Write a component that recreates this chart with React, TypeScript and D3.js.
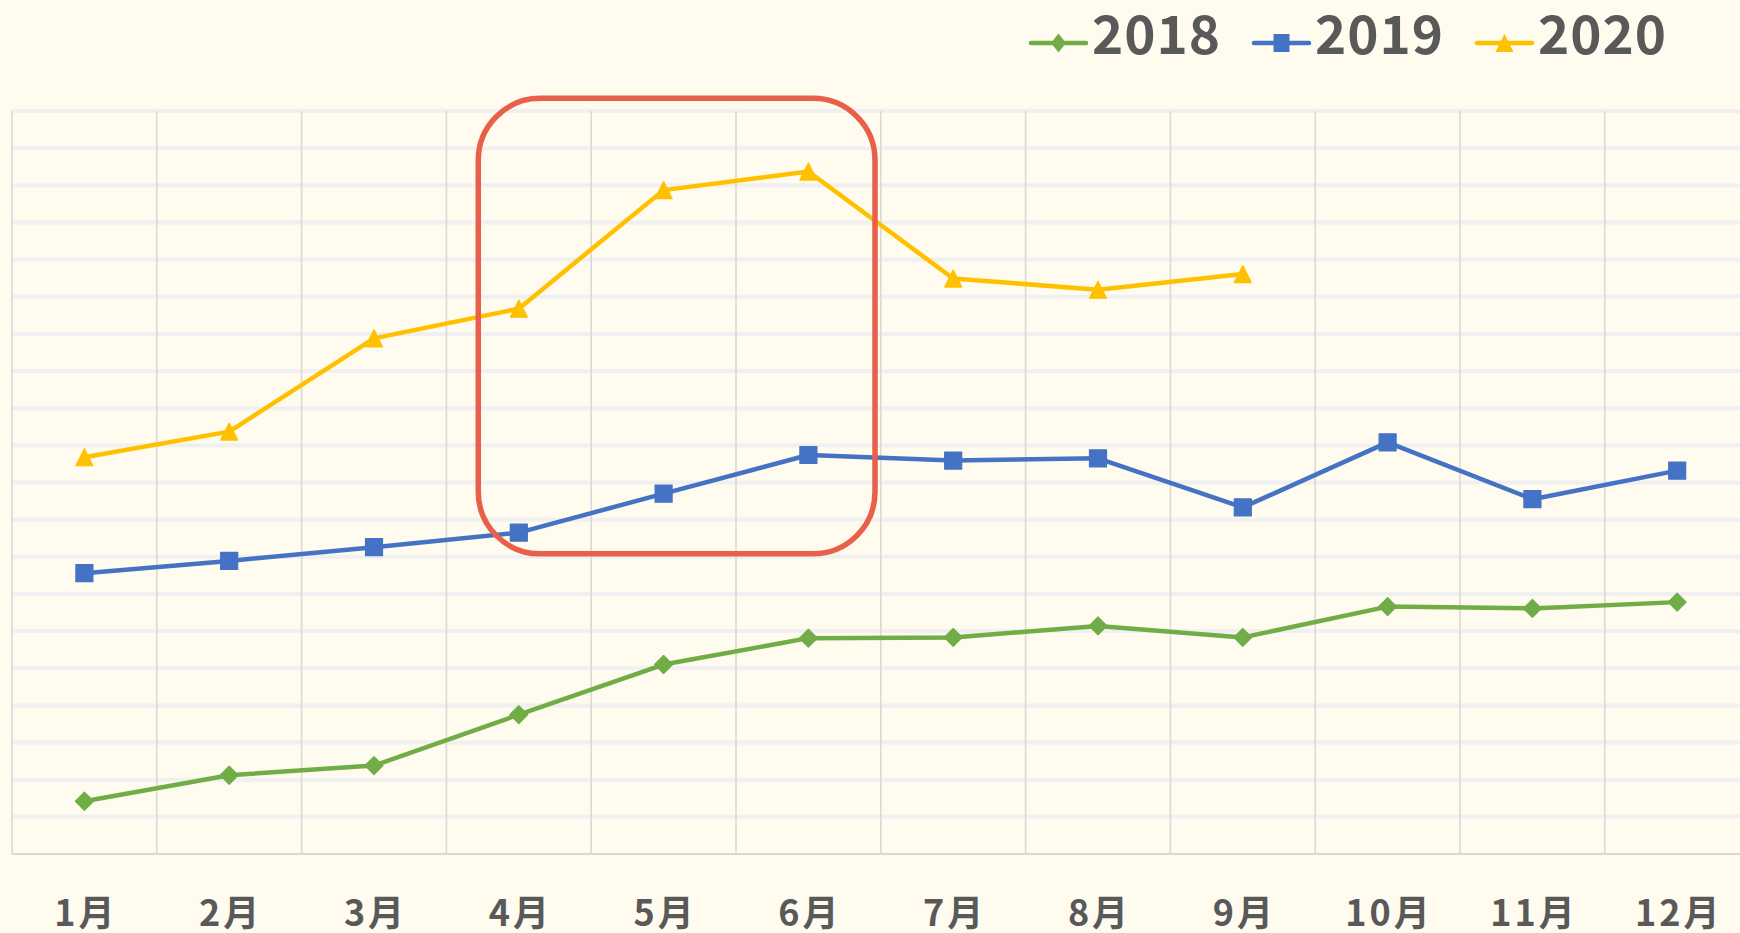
import { useEffect, useRef } from "react";
import * as d3 from "d3";

const months = ["1月", "2月", "3月", "4月", "5月", "6月", "7月", "8月", "9月", "10月", "11月", "12月"];
const values2018 = [14.2, 21.2, 23.8, 37.5, 51.0, 58.1, 58.3, 61.4, 58.3, 66.6, 66.1, 67.8];
const values2019 = [75.6, 78.9, 82.6, 86.5, 97.0, 107.4, 105.9, 106.5, 93.3, 110.8, 95.5, 103.2];
const values2020 = [106.8, 113.7, 138.8, 146.8, 178.7, 183.7, 154.9, 151.9, 156.1];
const yTicks = d3.range(10, 201, 10);
const highlightMonths = ["4月", "6月"];
const highlightRange = [80.8, 203.4];

const series = [
  { name: "2018", values: values2018, color: "#70ad47", marker: "diamond" },
  { name: "2019", values: values2019, color: "#4472c4", marker: "square" },
  { name: "2020", values: values2020, color: "#ffc000", marker: "triangle" },
];

const W = 1740;
const H = 933;
const FONT = "'Noto Sans CJK JP', 'Noto Sans', sans-serif";

function markerPath(kind: string, w: number, h: number) {
  const a = w / 2;
  const b = h / 2;
  if (kind === "diamond") return `M0,${-b}L${a},0L0,${b}L${-a},0Z`;
  if (kind === "square") return `M${-a},${-b}H${a}V${b}H${-a}Z`;
  return `M0,${-b}L${a},${b}L${-a},${b}Z`;
}

const App = () => {
  const ref = useRef<SVGSVGElement>(null);

  useEffect(() => {
    const svg = d3.select(ref.current);
    svg.selectAll("*").remove();

    const left = 12;
    const step = 144.8;
    const x = d3.scaleBand().domain(months).range([left, left + step * months.length]);
    const y = d3.scaleLinear().domain([0, 200]).range([854, 111]);
    const cx = (m: string) => (x(m) as number) + x.bandwidth() / 2;

    svg.append("rect").attr("width", W).attr("height", H).attr("fill", "#fffbef");

    // horizontal grid
    svg.append("g")
      .selectAll("line")
      .data(yTicks)
      .join("line")
      .attr("x1", left)
      .attr("x2", W)
      .attr("y1", (d) => y(d))
      .attr("y2", (d) => y(d))
      .attr("stroke", "#f0f0f0")
      .attr("stroke-width", 4);

    // vertical grid
    svg.append("g")
      .selectAll("line")
      .data(months)
      .join("line")
      .attr("x1", (d) => x(d) as number)
      .attr("x2", (d) => x(d) as number)
      .attr("y1", y(200))
      .attr("y2", y(0))
      .attr("stroke", "#d9d9d9")
      .attr("stroke-width", 1.6);

    svg.append("line")
      .attr("x1", left)
      .attr("x2", W)
      .attr("y1", y(0))
      .attr("y2", y(0))
      .attr("stroke", "#d9d9d9")
      .attr("stroke-width", 2);

    // x labels
    svg.append("g")
      .selectAll("text")
      .data(months)
      .join("text")
      .attr("x", (d) => cx(d) + 1.5)
      .attr("y", 926)
      .attr("text-anchor", "middle")
      .attr("font-family", FONT)
      .attr("font-weight", 700)
      .attr("font-size", 36)
      .attr("letter-spacing", 3)
      .attr("fill", "#595959")
      .text((d) => d);

    // series
    const line = d3
      .line<number>()
      .x((_, i) => cx(months[i]))
      .y((d) => y(d));

    series.forEach((s) => {
      svg.append("path")
        .attr("d", line(s.values))
        .attr("fill", "none")
        .attr("stroke", s.color)
        .attr("stroke-width", 4.5)
        .attr("stroke-linejoin", "round");
      const size = s.marker === "diamond" ? 18 : 17;
      svg.append("g")
        .selectAll("path")
        .data(s.values)
        .join("path")
        .attr("transform", (d, i) => `translate(${cx(months[i])},${y(d)})`)
        .attr("d", markerPath(s.marker, size, size))
        .attr("fill", s.color)
        .attr("stroke", s.color)
        .attr("stroke-width", 1.2)
        .attr("stroke-linejoin", "round");
    });

    // highlight box
    const bw = x.bandwidth();
    const x0 = (x(highlightMonths[0]) as number) + bw * 0.22;
    const x1 = (x(highlightMonths[1]) as number) + bw * 0.96;
    const y0 = y(highlightRange[1]);
    const y1 = y(highlightRange[0]);
    svg.append("rect")
      .attr("x", x0)
      .attr("y", y0)
      .attr("width", x1 - x0)
      .attr("height", y1 - y0)
      .attr("rx", 62)
      .attr("fill", "none")
      .attr("stroke", "#e9604a")
      .attr("stroke-width", 5.5);

    // legend
    const legendX = [1031, 1254, 1477];
    const legendMarker = [
      [15, 19],
      [16, 18],
      [18, 18],
    ];
    const lg = svg.append("g");
    series.forEach((s, i) => {
      const g = lg.append("g").attr("transform", `translate(${legendX[i]},43)`);
      g.append("line")
        .attr("x1", 0)
        .attr("x2", 55)
        .attr("stroke", s.color)
        .attr("stroke-width", 4.5)
        .attr("stroke-linecap", "round");
      g.append("path")
        .attr("transform", "translate(27.5,0)")
        .attr("d", markerPath(s.marker, legendMarker[i][0], legendMarker[i][1]))
        .attr("fill", s.color);
      g.append("text")
        .attr("x", 61)
        .attr("y", 10.5)
        .attr("font-family", FONT)
        .attr("font-weight", 700)
        .attr("font-size", 53)
        .attr("letter-spacing", 1)
        .attr("fill", "#595959")
        .text(s.name);
    });
  }, []);

  return (
    <svg
      ref={ref}
      width={W}
      height={H}
      style={{ position: "absolute", left: 0, top: 0, display: "block" }}
    />
  );
};

export default App;
